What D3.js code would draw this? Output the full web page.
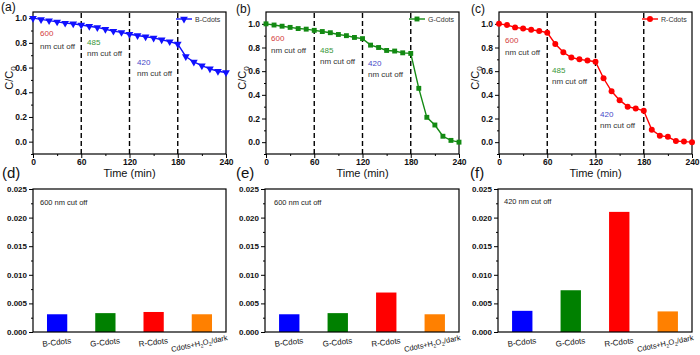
<!DOCTYPE html>
<html>
<head>
<meta charset="utf-8">
<script src="https://cdn.jsdelivr.net/npm/d3@7"></script>
<style>
  body { margin: 0; background: #fff; }
  svg { display: block; font-family: "Liberation Sans", Arial, sans-serif; }
</style>
</head>
<body>
<div id="chart"></div>
<script>
// time axis (min)
var timeMin = [0, 10, 20, 30, 40, 50, 60, 70, 80, 90, 100, 110, 120, 130, 140, 150, 160, 170, 180, 190, 200, 210, 220, 230, 240];

// C/C0 curves
var bCdots = [1.0, 0.99, 0.98, 0.97, 0.96, 0.955, 0.945, 0.935, 0.925, 0.91, 0.895, 0.885, 0.87, 0.86, 0.85, 0.84, 0.825, 0.81, 0.79, 0.69, 0.645, 0.615, 0.59, 0.57, 0.56];
var gCdots = [1.0, 0.99, 0.98, 0.97, 0.96, 0.955, 0.945, 0.935, 0.925, 0.91, 0.9, 0.885, 0.875, 0.82, 0.8, 0.775, 0.77, 0.755, 0.75, 0.455, 0.21, 0.145, 0.05, 0.015, 0.0];
var rCdots = [1.0, 0.99, 0.97, 0.96, 0.95, 0.94, 0.925, 0.83, 0.76, 0.715, 0.7, 0.69, 0.68, 0.54, 0.43, 0.355, 0.3, 0.285, 0.265, 0.105, 0.055, 0.045, 0.01, 0.005, 0.0];

var timeTicks = [0, 60, 120, 180, 240];
var cutTimes = [60, 120, 180];
var ratioTicks = [0, 0.2, 0.4, 0.6, 0.8, 1.0];

// rate constants (bar panels)
var barCats = ["B-Cdots", "G-Cdots", "R-Cdots", "Cdots+H2O2/dark"];
var rate600d = [0.0031, 0.0033, 0.0035, 0.0031];
var rate600e = [0.0031, 0.0033, 0.0069, 0.0031];
var rate420f = [0.0037, 0.0073, 0.021, 0.0036];
var rateTicks = [0, 0.005, 0.010, 0.015, 0.020, 0.025];

var W = 700, H = 355;
var svg = d3.select("#chart").append("svg").attr("width", W).attr("height", H);

var barColors = ["#0000ff", "#008000", "#ff0000", "#ff8000"];

// ---------- line panels ----------
var linePanels = [
  {label: "(a)", lx: 1, ly: 11, x0: 33, x1: 226, yTop: 1.05, data: bCdots, color: "#1010ff", name: "B-Cdots", shape: "tri",
   notes: [[40, 36, "600", "#d43c3c"], [40, 49, "nm cut off", "#333"], [87, 45, "485", "#3a963a"], [87, 56, "nm cut off", "#333"], [137, 65, "420", "#4646c8"], [137, 76, "nm cut off", "#333"]]},
  {label: "(b)", lx: 236, ly: 13, x0: 266, x1: 459, yTop: 1.1, data: gCdots, color: "#138a13", name: "G-Cdots", shape: "sq",
   notes: [[271, 41, "600", "#d43c3c"], [271, 53, "nm cut off", "#333"], [320, 53, "485", "#3a963a"], [320, 64, "nm cut off", "#333"], [368, 66, "420", "#4646c8"], [368, 77, "nm cut off", "#333"]]},
  {label: "(c)", lx: 471, ly: 13, x0: 499, x1: 692, yTop: 1.1, data: rCdots, color: "#ff0000", name: "R-Cdots", shape: "circ",
   notes: [[505, 43, "600", "#d43c3c"], [505, 55, "nm cut off", "#333"], [552, 73, "485", "#3a963a"], [552, 84, "nm cut off", "#333"], [600, 117, "420", "#4646c8"], [600, 128, "nm cut off", "#333"]]}
];

var topY0 = 12, topY1 = 154;

linePanels.forEach(function(p) {
  var g = svg.append("g");
  var x = d3.scaleLinear().domain([0, 240]).range([p.x0, p.x1]);
  var y = d3.scaleLinear().domain([-0.1, p.yTop]).range([topY1, topY0]);

  // frame
  g.append("rect").attr("x", p.x0).attr("y", topY0).attr("width", p.x1 - p.x0).attr("height", topY1 - topY0)
    .attr("fill", "none").attr("stroke", "#000").attr("stroke-width", 1.2);

  // axes
  var xAxis = d3.axisBottom(x).tickValues(timeTicks).tickSize(4).tickPadding(1);
  g.append("g").attr("transform", "translate(0," + topY1 + ")").call(xAxis);
  g.append("g").attr("transform", "translate(0," + topY1 + ")")
    .call(d3.axisBottom(x).tickValues([30, 90, 150, 210]).tickSize(2).tickFormat(""));
  var yAxis = d3.axisLeft(y).tickValues(ratioTicks).tickSize(4).tickPadding(2).tickFormat(d3.format(".1f"));
  g.append("g").attr("transform", "translate(" + p.x0 + ",0)").call(yAxis);
  g.append("g").attr("transform", "translate(" + p.x0 + ",0)")
    .call(d3.axisLeft(y).tickValues([-0.1, 0.1, 0.3, 0.5, 0.7, 0.9]).tickSize(2).tickFormat(""));
  g.selectAll(".domain").remove();
  g.selectAll(".tick line").attr("stroke", "#000");
  g.selectAll(".tick text").attr("font-size", 8.5).attr("font-weight", "bold").attr("fill", "#111")
    .attr("font-family", "Liberation Sans, Arial, sans-serif");

  // dashed cut-off lines
  g.selectAll(".cut").data(cutTimes).enter().append("line")
    .attr("x1", function(d) { return x(d); }).attr("x2", function(d) { return x(d); })
    .attr("y1", topY1).attr("y2", topY0)
    .attr("stroke", "#000").attr("stroke-width", 1.4).attr("stroke-dasharray", "5,3");

  // series
  var pts = timeMin.map(function(t, i) { return [t, p.data[i]]; });
  var line = d3.line().x(function(d) { return x(d[0]); }).y(function(d) { return y(d[1]); });
  g.append("path").attr("d", line(pts)).attr("fill", "none").attr("stroke", p.color).attr("stroke-width", 1.4);

  var sym = p.shape === "tri" ? d3.symbol().type(d3.symbolTriangle).size(26)
          : p.shape === "sq" ? d3.symbol().type(d3.symbolSquare).size(24)
          : d3.symbol().type(d3.symbolCircle).size(28);
  g.selectAll(".pt").data(pts).enter().append("path")
    .attr("d", sym)
    .attr("transform", function(d) { return "translate(" + x(d[0]) + "," + y(d[1]) + ")" + (p.shape === "tri" ? " rotate(180)" : ""); })
    .attr("fill", p.color);

  // legend
  var lgx = p.x1 - 50, lgy = topY0 + 7;
  g.append("line").attr("x1", lgx).attr("x2", lgx + 16).attr("y1", lgy).attr("y2", lgy).attr("stroke", p.color).attr("stroke-width", 1.4);
  g.append("path").attr("d", sym).attr("fill", p.color)
    .attr("transform", "translate(" + (lgx + 8) + "," + lgy + ")" + (p.shape === "tri" ? " rotate(180)" : ""));
  g.append("text").attr("x", lgx + 19).attr("y", lgy + 2.5).attr("font-size", 7).attr("fill", "#333").text(p.name);

  // notes
  p.notes.forEach(function(n) {
    g.append("text").attr("x", n[0]).attr("y", n[1]).attr("font-size", 8).attr("fill", n[3]).text(n[2]);
  });

  // titles
  g.append("text").attr("x", (p.x0 + p.x1) / 2).attr("y", 177).attr("text-anchor", "middle")
    .attr("font-size", 11).attr("fill", "#111").text("Time (min)");
  var yt = g.append("text").attr("transform", "translate(" + (p.x0 - 20) + "," + ((topY0 + topY1) / 2 - 5) + ") rotate(-90)")
    .attr("text-anchor", "middle").attr("font-size", 11).attr("fill", "#111");
  yt.append("tspan").text("C/C");
  yt.append("tspan").attr("font-size", 8).attr("dy", 3).text("0");

  svg.append("text").attr("x", p.lx).attr("y", p.ly).attr("font-size", 12).attr("fill", "#111").text(p.label);
});

// ---------- bar panels ----------
var barPanels = [
  {label: "(d)", lx: 2, ly: 178, x0: 33, x1: 226, vals: rate600d, note: "600 nm cut off", nx: 40, ny: 205},
  {label: "(e)", lx: 236, ly: 178, x0: 265, x1: 459, vals: rate600e, note: "600 nm cut off", nx: 274, ny: 205},
  {label: "(f)", lx: 470, ly: 178, x0: 498, x1: 692, vals: rate420f, note: "420 nm cut off", nx: 504, ny: 204}
];
var botY0 = 189, botY1 = 332;

barPanels.forEach(function(p) {
  var g = svg.append("g");
  var x = d3.scaleBand().domain(barCats).range([p.x0, p.x1]).paddingInner(0.58).paddingOuter(0.29);
  var y = d3.scaleLinear().domain([0, 0.025]).range([botY1, botY0]);

  g.selectAll(".bar").data(barCats).enter().append("rect")
    .attr("x", function(d) { return x(d); })
    .attr("width", x.bandwidth())
    .attr("y", function(d, i) { return y(p.vals[i]); })
    .attr("height", function(d, i) { return botY1 - y(p.vals[i]); })
    .attr("fill", function(d, i) { return barColors[i]; });

  g.append("rect").attr("x", p.x0).attr("y", botY0).attr("width", p.x1 - p.x0).attr("height", botY1 - botY0)
    .attr("fill", "none").attr("stroke", "#000").attr("stroke-width", 1.2);

  var yAxis = d3.axisLeft(y).tickValues(rateTicks).tickSize(4).tickPadding(2).tickFormat(d3.format(".3f"));
  g.append("g").attr("transform", "translate(" + p.x0 + ",0)").call(yAxis);
  g.append("g").attr("transform", "translate(" + p.x0 + ",0)")
    .call(d3.axisLeft(y).tickValues([0.0025, 0.0075, 0.0125, 0.0175, 0.0225]).tickSize(2).tickFormat(""));
  g.selectAll(".domain").remove();
  g.selectAll(".tick line").attr("stroke", "#000");
  g.selectAll(".tick text").attr("font-size", 8).attr("font-weight", "bold").attr("fill", "#111")
    .attr("font-family", "Liberation Sans, Arial, sans-serif");

  // category labels, slightly slanted
  barCats.forEach(function(c) {
    var cx = x(c) + x.bandwidth() / 2;
    var longLab = c.length > 8;
    var t = g.append("text").attr("transform", "translate(" + (cx - (longLab ? 2 : 0)) + "," + (longLab ? 346 : 345) + ") rotate(" + (longLab ? -12 : -7) + ")")
      .attr("text-anchor", "middle").attr("font-size", longLab ? 7.5 : 8).attr("fill", "#111");
    if (c === "Cdots+H2O2/dark") {
      t.append("tspan").text("Cdots+H");
      t.append("tspan").attr("font-size", 5).attr("dy", 2).text("2");
      t.append("tspan").attr("dy", -2).text("O");
      t.append("tspan").attr("font-size", 5).attr("dy", 2).text("2");
      t.append("tspan").attr("dy", -2).text("/dark");
    } else {
      t.text(c);
    }
  });

  g.append("text").attr("x", p.nx).attr("y", p.ny).attr("font-size", 7.5).attr("fill", "#222").text(p.note);
  svg.append("text").attr("x", p.lx).attr("y", p.ly).attr("font-size", 15).attr("fill", "#111").text(p.label);
});
</script>
</body>
</html>
